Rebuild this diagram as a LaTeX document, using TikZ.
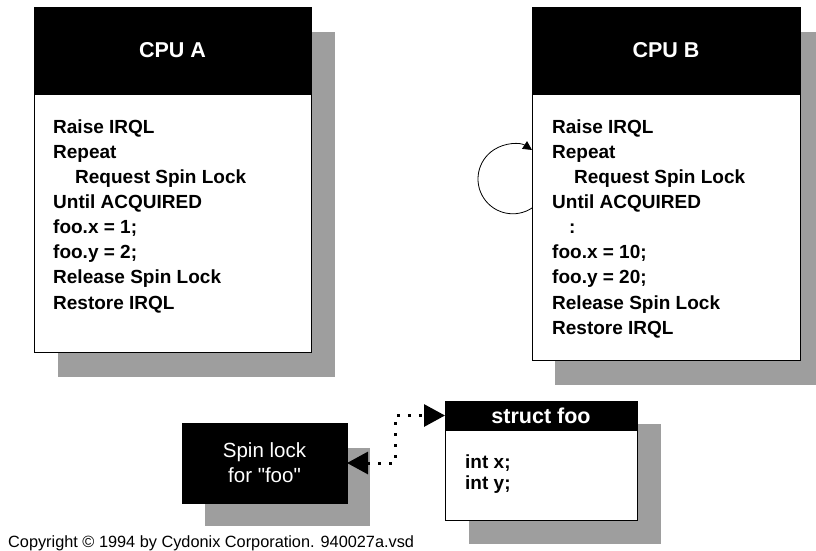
\documentclass[tikz,border=0pt]{standalone}
\usepackage{fontspec}
\setmainfont{Liberation Sans}
\usetikzlibrary{arrows.meta}
\definecolor{shade}{RGB}{158,158,158}
\begin{document}
\begin{tikzpicture}[x=1pt,y=-1pt,
  shadowbox/.style={fill=shade, draw=none, anchor=north west, inner sep=0pt, outer sep=0pt},
  panel/.style={draw=black, line width=0.8pt, fill=white, anchor=north west, inner sep=0pt, outer sep=0pt},
  header/.style={fill=black, draw=black, line width=0.8pt, anchor=north west, inner sep=0pt, outer sep=0pt},
  body/.style={font=\fontsize{19}{22}\selectfont\bfseries, anchor=base west, inner sep=0pt},
  headtxt/.style={font=\fontsize{21.5}{25}\selectfont\bfseries, text=white, inner sep=0pt},
  whitetxt/.style={font=\fontsize{20.5}{24}\selectfont, text=white, inner sep=0pt, align=center},
  dotconn/.style={line width=3pt, dash pattern=on 3pt off 8pt, {Triangle[length=21pt,width=22pt]}-{Triangle[length=21pt,width=22pt]}},
  loopconn/.style={line width=0.8pt, -{Triangle[length=9pt,width=9pt]}}
]
\useasboundingbox (0,0) rectangle (816,551);

% ---------- CPU A ----------
\node[shadowbox, minimum width=277pt, minimum height=345pt] (ashadow) at (58,32) {};
\node[panel, minimum width=277pt, minimum height=345pt] (cpua) at (34,7) {};
\node[header, minimum width=277pt, minimum height=87pt] (ahead) at (34,7) {};
\node[headtxt] (atitle) at (ahead.center) {CPU A};
\node[body] (a1) at (53,133.3) {Raise IRQL};
\node[body] (a2) at (53,158.4) {Repeat};
\node[body] (a3) at (75,183.5) {Request Spin Lock};
\node[body] (a4) at (53,208.6) {Until ACQUIRED};
\node[body] (a5) at (53,233.7) {foo.x = 1;};
\node[body] (a6) at (53,258.8) {foo.y = 2;};
\node[body] (a7) at (53,283.9) {Release Spin Lock};
\node[body] (a8) at (53,309.0) {Restore IRQL};

% ---------- CPU B ----------
\node[shadowbox, minimum width=268pt, minimum height=353pt] (bshadow) at (555,32) {};
\node[panel, minimum width=268pt, minimum height=353pt] (cpub) at (532,7) {};
\node[header, minimum width=268pt, minimum height=87pt] (bhead) at (532,7) {};
\node[headtxt] (btitle) at (bhead.center) {CPU B};
\node[body] (b1) at (552,133.3) {Raise IRQL};
\node[body] (b2) at (552,158.4) {Repeat};
\node[body] (b3) at (574,183.5) {Request Spin Lock};
\node[body] (b4) at (552,208.6) {Until ACQUIRED};
\node[body] (b5) at (569,233.7) {:};
\node[body] (b6) at (552,258.8) {foo.x = 10;};
\node[body] (b7) at (552,283.9) {foo.y = 20;};
\node[body] (b8) at (552,309.0) {Release Spin Lock};
\node[body] (b9) at (552,334.1) {Restore IRQL};

% loop
\coordinate (loopstart) at (532,208);
\draw[loopconn] (loopstart) arc[start angle=-56.5, end angle=-303.5, radius=34.8pt];

% ---------- Spin lock ----------
\node[shadowbox, minimum width=165pt, minimum height=78pt] (sshadow) at (205,448) {};
\node[header, minimum width=165pt, minimum height=80pt] (spin) at (182,423) {};
\node[whitetxt] (spintxt) at (spin.center) {Spin lock\\[1pt]for \textquotedbl foo\textquotedbl};

% ---------- struct foo ----------
\node[shadowbox, minimum width=192pt, minimum height=120pt] (fshadow) at (469,424) {};
\node[panel, minimum width=192pt, minimum height=119pt] (foo) at (445,401) {};
\node[header, minimum width=192pt, minimum height=29pt] (fhead) at (445,401) {};
\node[headtxt] (ftitle) at (fhead.center) {struct foo};
\node[body] (f1) at (465,468) {int x;};
\node[body] (f2) at (465,489) {int y;};

% connector
\coordinate (bend) at (395,463);
\draw[dotconn] (spin.east) -- (bend) |- (fhead.west);

% copyright
\node[font=\fontsize{16.3}{19}\selectfont, anchor=base west, inner sep=0pt] (copy) at (8,547) {Copyright © 1994 by Cydonix Corporation. 940027a.vsd};
\end{tikzpicture}
\end{document}
